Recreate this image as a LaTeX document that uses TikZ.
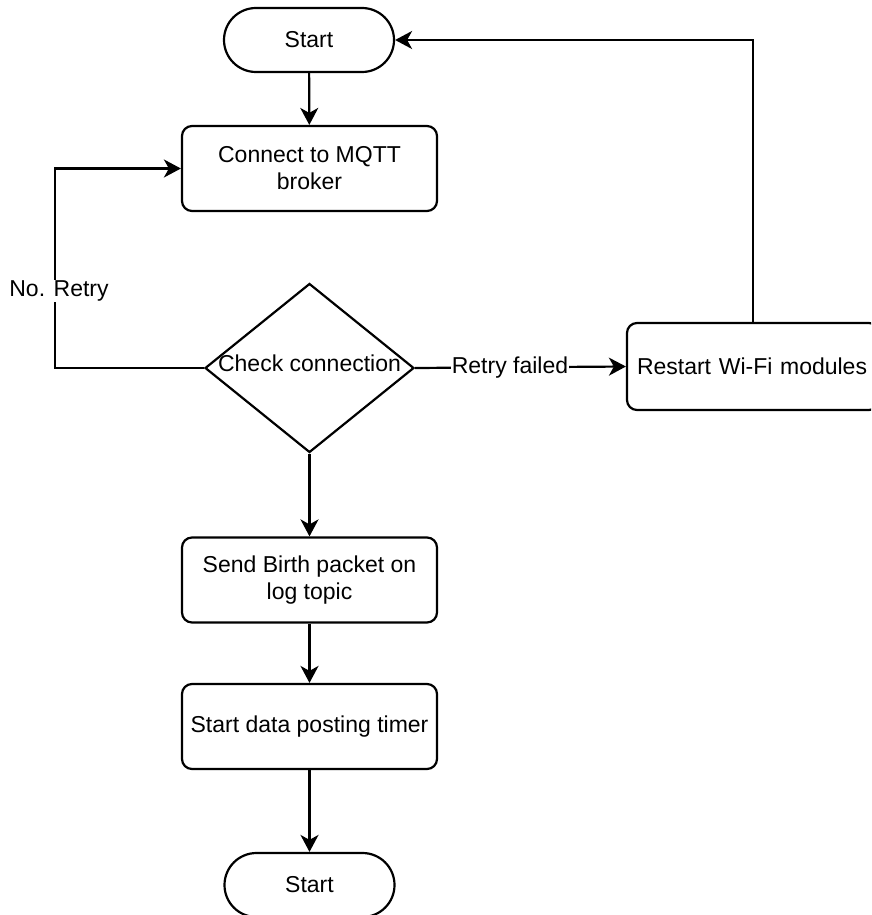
\documentclass[tikz,border=0pt]{standalone}
\usepackage{fontspec}
\setmainfont{Liberation Sans}
\usetikzlibrary{arrows.meta,shapes.geometric}
\begin{document}
\begin{tikzpicture}[x=1pt,y=-1pt,
  font=\fontsize{23}{27}\selectfont,
  line width=2.2pt,
  proc/.style={draw, rectangle, rounded corners=10pt, minimum width=255pt, minimum height=85pt, align=center, inner sep=0pt},
  term/.style={draw, rectangle, rounded corners=32pt, minimum width=170pt, minimum height=64pt, inner sep=0pt},
  arr/.style={-{Stealth[length=17pt,width=18pt,inset=5pt]}},
  lbl/.style={fill=white, inner sep=1pt}]
\useasboundingbox (0,0) rectangle (871,915);
\clip (0,0) rectangle (871,915);
\node[term] (start) at (309,40) {Start};
\node[proc] (conn) at (309.5,168.5) {Connect to MQTT\\broker};
\node[draw, diamond, minimum width=209pt, minimum height=169pt, inner sep=0pt] (chk) at (309.5,368) {};
\node (chktext) at (309.5,363) {Check connection};
\node[proc, minimum width=252pt, minimum height=87pt, text width=232pt, inner xsep=10pt, align=left] (restart) at (753,366.5) {Restart Wi-Fi modules};
\node[proc] (send) at (309.5,580) {Send Birth packet on\\log topic};
\node[proc] (timer) at (309.5,726.5) {Start data posting timer};
\node[term] (stop) at (309.5,885) {Start};
\coordinate (lc) at (55,368);
\draw[arr] (start) -- (conn);
\draw[arr] (chk.west) -- (lc) |- (conn.west);
\node[lbl] (noretry) at (59,291) {No. Retry};
\draw[arr] (chk.east) -- (restart.west) node[lbl, pos=0.45] (rf) {Retry failed};
\draw[arr] (restart.north) |- (start.east);
\draw[arr] (chk.south) -- (send.north);
\draw[arr] (send) -- (timer);
\draw[arr] (timer) -- (stop);
\end{tikzpicture}
\end{document}
